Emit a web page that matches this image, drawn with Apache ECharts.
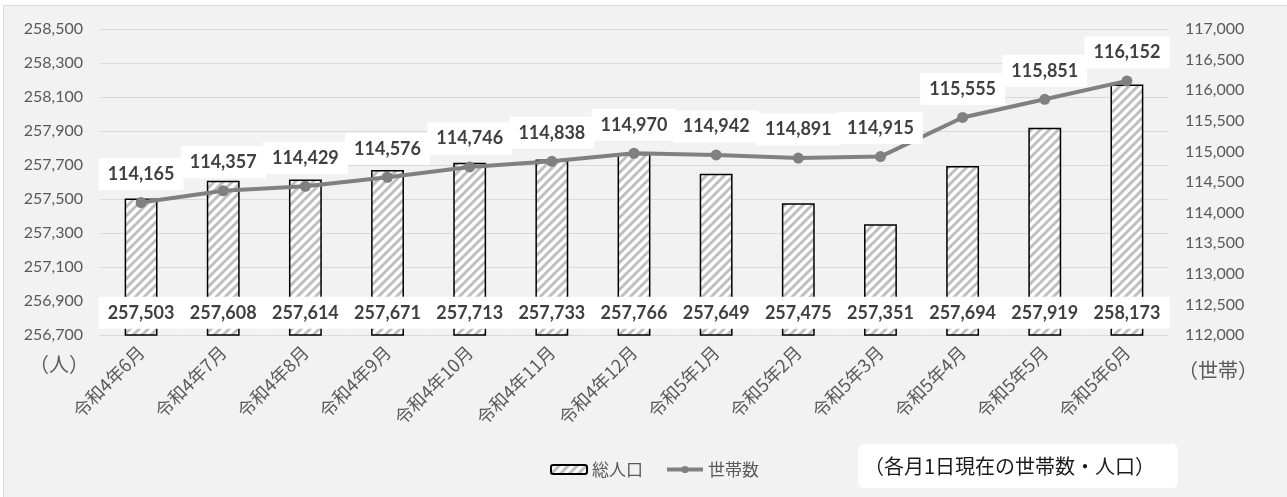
<!DOCTYPE html>
<html>
<head>
<meta charset="utf-8">
<script src="https://cdn.jsdelivr.net/npm/echarts@6/dist/echarts.min.js"></script>
<style>
  html, body { margin: 0; padding: 0; background: #fff; }
  #chart { width: 1287px; height: 497px; }
</style>
</head>
<body>
<div id="chart"></div>
<script>
  // 月別データ
  const months = ['令和4年6月', '令和4年7月', '令和4年8月', '令和4年9月', '令和4年10月', '令和4年11月',
    '令和4年12月', '令和5年1月', '令和5年2月', '令和5年3月', '令和5年4月', '令和5年5月', '令和5年6月'];
  const population = [257503, 257608, 257614, 257671, 257713, 257733, 257766, 257649, 257475, 257351, 257694, 257919, 258173];
  const households = [114165, 114357, 114429, 114576, 114746, 114838, 114970, 114942, 114891, 114915, 115555, 115851, 116152];

  const numFont = 'Lato, "Noto Sans CJK JP", sans-serif';
  const jpFont = '"Noto Sans CJK JP", sans-serif';

  // 斜線ハッチ
  function hatch() {
    let c = document.createElement('canvas');
    c.width = 9; c.height = 9;
    let g = c.getContext('2d');
    g.fillStyle = '#ffffff';
    g.fillRect(0, 0, 9, 9);
    g.strokeStyle = '#bfbfbf';
    g.lineWidth = 3;
    g.beginPath();
    g.moveTo(-1, 10); g.lineTo(10, -1);
    g.moveTo(-2, 2); g.lineTo(2, -2);
    g.moveTo(7, 11); g.lineTo(11, 7);
    g.stroke();
    return c;
  }
  const fmt = v => v.toLocaleString('en-US');

  const chart = echarts.init(document.getElementById('chart'));
  chart.setOption({
    animation: false,
    backgroundColor: '#ffffff',
    graphic: [
      { type: 'rect', z: -10, silent: true, shape: { x: 3.5, y: 5.5, width: 1290, height: 500 },
        style: { fill: '#f2f2f2', stroke: '#d9d9d9', lineWidth: 1 } },
      { type: 'text', left: 29, top: 354, style: { text: '（人）', fill: '#595959', font: '20px ' + jpFont } },
      { type: 'text', left: 1178, top: 360, style: { text: '（世帯）', fill: '#595959', font: '20px ' + jpFont } },
      { type: 'rect', shape: { x: 858, y: 444, width: 320, height: 44, r: 6 }, style: { fill: '#ffffff' } },
      { type: 'text', x: 864, y: 466, style: { text: '（各月1日現在の世帯数・人口）', fill: '#1a1a1a',
        font: '20px ' + jpFont, verticalAlign: 'middle' } }
    ],
    legend: {
      left: 545, top: 456,
      itemWidth: 36, itemHeight: 9, itemGap: 22,
      textStyle: { color: '#595959', fontSize: 17, fontFamily: jpFont },
      data: [
        { name: '総人口' },
        { name: '世帯数', lineStyle: { width: 4, color: '#808080' }, itemStyle: { color: '#808080' } }
      ]
    },
    grid: { left: 100, right: 119, top: 29, bottom: 162 },
    xAxis: {
      type: 'category',
      data: months,
      axisTick: { show: false },
      axisLine: { lineStyle: { color: '#d9d9d9', width: 1 } },
      axisLabel: { rotate: 45, margin: 14, color: '#595959', fontSize: 18, fontFamily: jpFont, interval: 0 }
    },
    yAxis: [
      {
        type: 'value', min: 256700, max: 258500, interval: 200,
        axisLabel: { color: '#595959', fontSize: 16, fontFamily: numFont, margin: 17, formatter: fmt },
        splitLine: { lineStyle: { color: '#d9d9d9', width: 1 } }
      },
      {
        type: 'value', min: 112000, max: 117000, interval: 500,
        axisLabel: { color: '#595959', fontSize: 16, fontFamily: numFont, margin: 17, formatter: fmt },
        splitLine: { show: false }
      }
    ],
    series: [
      {
        name: '総人口',
        type: 'bar',
        data: population,
        barWidth: '40%',
        itemStyle: { color: { image: hatch(), repeat: 'repeat' }, borderColor: '#000', borderWidth: 1.5 },
        label: {
          show: true, position: 'insideBottom', distance: 7,
          backgroundColor: '#fff', padding: [7, 9],
          color: '#404040', fontSize: 18, fontWeight: 'bold', fontFamily: numFont,
          formatter: p => fmt(p.value)
        }
      },
      {
        name: '世帯数',
        type: 'line',
        yAxisIndex: 1,
        data: households,
        symbol: 'circle',
        symbolSize: 11,
        lineStyle: { color: '#808080', width: 4 },
        itemStyle: { color: '#808080' },
        label: {
          show: true, position: 'top', distance: 7,
          backgroundColor: '#fff', padding: [7, 9],
          color: '#404040', fontSize: 18, fontWeight: 'bold', fontFamily: numFont,
          formatter: p => fmt(p.value)
        }
      }
    ]
  });
</script>
</body>
</html>
